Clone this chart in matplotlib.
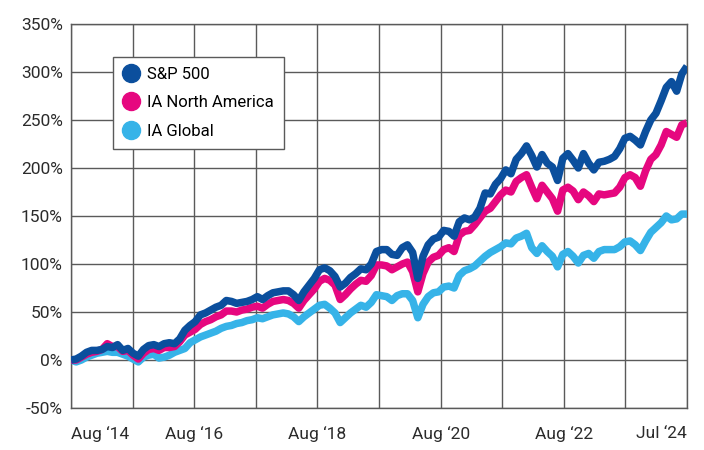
import numpy as np
import matplotlib
matplotlib.use("Agg")
import matplotlib.pyplot as plt
from matplotlib.lines import Line2D

plt.rcParams["font.family"] = ["Roboto", "DejaVu Sans"]

# ======================================
# Data: cumulative return (%), monthly Aug '14 -> Jul '24
# ======================================
sp500 = [
    0, 1, 4, 8, 10, 10, 11, 14, 13, 16, 10, 12, 7, 4, 11, 15, 16, 14, 17, 18, 17, 22, 31, 36, 40,
    47, 49, 52, 55, 57, 62, 61, 59, 60, 61, 63, 66, 63, 67, 70, 71, 72, 72, 68, 62, 71, 78, 85, 94,
    96, 93, 87, 76, 80, 86, 90, 95, 94, 100, 113, 115, 115, 110, 109, 117, 120, 112, 85, 108, 120, 126, 128, 135,
    134, 129, 144, 148, 146, 149, 158, 174, 173, 183, 189, 198, 194, 209, 215, 223, 213, 201, 214, 205, 201, 187, 210, 215,
    208, 200, 215, 205, 198, 206, 207, 209, 212, 220, 231, 233, 229, 224, 238, 250, 257, 270, 284, 290, 280, 298, 306,
]
ia_north_america = [
    0, 0, 3, 6, 8, 9, 11, 17, 14, 14, 9, 10, 5, 1, 7, 11, 12, 10, 13, 13, 14, 19, 26, 29, 32,
    37, 40, 42, 45, 47, 51, 51, 50, 52, 53, 55, 56, 54, 58, 61, 62, 63, 62, 59, 54, 62, 68, 74, 82,
    85, 83, 78, 63, 68, 74, 79, 83, 82, 88, 99, 99, 98, 94, 97, 100, 102, 92, 71, 90, 102, 107, 109, 115,
    117, 113, 130, 134, 135, 141, 148, 155, 158, 165, 172, 177, 175, 186, 190, 193, 180, 168, 182, 175, 168, 155, 177, 180,
    176, 167, 175, 171, 165, 173, 172, 173, 174, 180, 190, 193, 190, 181, 197, 209, 214, 224, 238, 235, 232, 245, 247,
]
ia_global = [
    0, -2, 0, 3, 5, 7, 8, 9, 8, 8, 6, 4, 1, -2, 3, 5, 6, 2, 3, 5, 8, 10, 12, 18, 21,
    24, 26, 28, 30, 33, 35, 36, 38, 39, 41, 42, 44, 43, 45, 47, 48, 49, 48, 45, 40, 45, 49, 53, 57,
    58, 54, 49, 39, 44, 49, 53, 57, 55, 60, 68, 67, 66, 62, 67, 69, 69, 62, 44, 58, 66, 70, 71, 76,
    77, 75, 88, 93, 95, 98, 103, 108, 112, 115, 118, 122, 121, 127, 129, 132, 117, 111, 119, 113, 108, 97, 110, 113,
    108, 101, 109, 111, 106, 113, 115, 115, 115, 118, 123, 124, 120, 114, 124, 133, 138, 143, 150, 146, 147, 152, 152,
]
series_names = ["S&P 500", "IA North America", "IA Global"]
series_colors = ["#0b4f9d", "#e6077f", "#36b3e8"]
x_labels = ["Aug \u201814", "Aug \u201816", "Aug \u201818", "Aug \u201820", "Aug \u201822", "Jul \u201824"]
y_ticks = list(range(-50, 351, 50))

months = np.arange(len(sp500))
n_last = months[-1]

# ======================================
# Plot
# ======================================
fig = plt.figure(figsize=(7.04, 4.5), dpi=100)
ax = fig.add_axes([71 / 704, 1 - 408 / 450, (687 - 71) / 704, (408 - 24) / 450])

grid_col = "#5a5a5a"
for data, col in zip([ia_global, ia_north_america, sp500], series_colors[::-1]):
    ax.plot(months, data, color=col, lw=5.4, solid_joinstyle="round", solid_capstyle="butt", zorder=3)

ax.set_xlim(0, n_last)
ax.set_ylim(-50, 350)

# yearly vertical grid, labels every two years
grid_x = np.linspace(0, n_last, 11)
ax.set_xticks(grid_x)
labels = []
for i in range(11):
    labels.append(x_labels[i // 2] if i % 2 == 0 else "")
ax.set_xticklabels(labels)
ax.set_yticks(y_ticks)
ax.set_yticklabels([f"{v}%" for v in y_ticks])

ax.grid(True, color=grid_col, lw=1.0, zorder=1)
for s in ax.spines.values():
    s.set_color(grid_col)
    s.set_linewidth(1.0)

ax.tick_params(axis="both", length=0, labelsize=12.5, colors="#2b2b2b")
ax.tick_params(axis="x", pad=13)
ax.tick_params(axis="y", pad=6)
tl = ax.get_xticklabels()
tl[0].set_ha("left")
tl[-1].set_ha("right")

handles = [Line2D([], [], ls="none", marker="o", markersize=13, color=c) for c in series_colors]
leg = ax.legend(handles, series_names, loc="upper left",
                bbox_to_anchor=(113 / 704, 1 - 57 / 450), bbox_transform=fig.transFigure,
                fontsize=12, frameon=True, fancybox=False, edgecolor=grid_col, framealpha=1,
                borderpad=0.6, labelspacing=0.8, handlelength=1.0, handletextpad=0.45,
                borderaxespad=0)
leg.get_frame().set_linewidth(1.0)
leg.set_zorder(5)

plt.savefig("out.png", dpi=100)
plt.close()
